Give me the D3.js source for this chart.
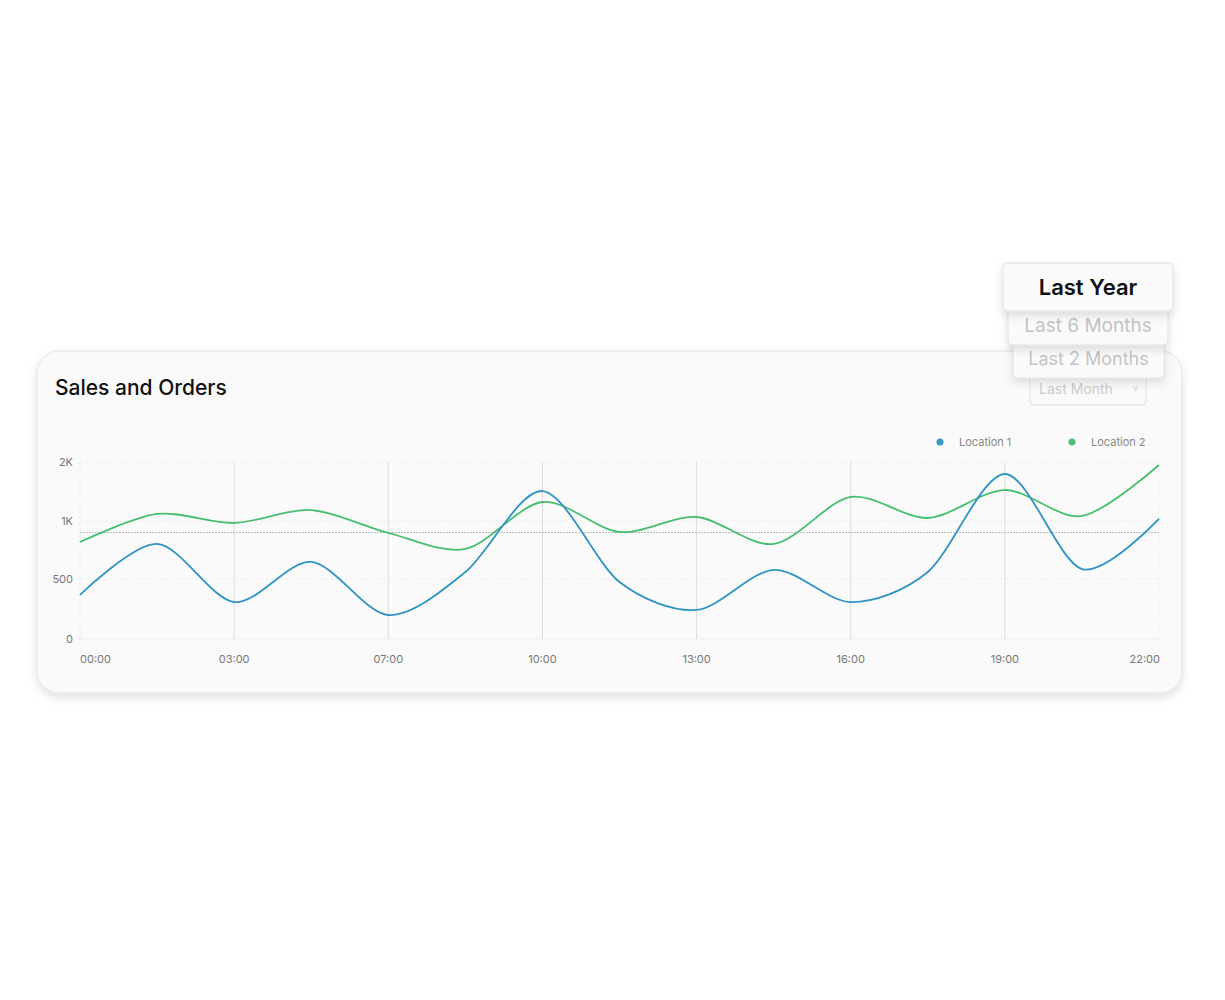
<!DOCTYPE html>
<html><head><meta charset="utf-8">
<script src="https://cdn.jsdelivr.net/npm/d3@7"></script>
<style>body{margin:0;background:#fff;font-family:Inter,"Noto Sans",sans-serif}</style>
</head><body>
<svg id="c" width="1225" height="1000"></svg>
<script>
/*global d3*/
var hours = ["00:00", "", "03:00", "", "07:00", "", "10:00", "", "13:00", "", "16:00", "", "19:00", "", "22:00"],
    location1 = [367, 802, 308, 647, 200, 560, 1508, 475, 242, 578, 308, 560, 1797, 586, 1034],
    location2 = [819, 1119, 983, 1186, 897, 759, 1322, 905, 1068, 802, 1407, 1051, 1525, 1085, 1949],
    yTicks = [0, 500, 1000, 2000],
    yTickLabels = ["0", "500", "1K", "2K"],
    refValue = 900,
    periods = ["Last Month", "Last 2 Months", "Last 6 Months", "Last Year"];

var svg = d3.select("#c"),
    defs = svg.append("defs");
var f = defs.append("filter").attr("id", "sh").attr("x", "-10%").attr("y", "-20%").attr("width", "120%").attr("height", "150%");
f.append("feDropShadow").attr("dx", 0).attr("dy", 4).attr("stdDeviation", 5).attr("flood-color", "#000").attr("flood-opacity", 0.12);

svg.append("rect").attr("x", 37).attr("y", 351).attr("width", 1145).attr("height", 342).attr("rx", 22)
    .attr("fill", "#fafafa").attr("stroke", "#e3e3e3").attr("filter", "url(#sh)");
svg.append("text").attr("x", 55).attr("y", 395).text("Sales and Orders")
    .attr("font-size", 21).attr("font-weight", 500).attr("fill", "#111");

var idx = d3.range(hours.length);
var x = d3.scalePoint().domain(idx).range([80, 1159]);
var y = d3.scaleLinear().domain(yTicks).range([639, 579, 521, 462]);

var g = svg.append("g");
yTicks.forEach(function (t, i) {
    g.append("line").attr("x1", 80).attr("x2", 1159).attr("y1", y(t)).attr("y2", y(t))
        .attr("stroke", "#eee").attr("stroke-dasharray", i === 0 ? null : "3,2");
    g.append("text").attr("x", 73).attr("y", y(t) + 4).attr("text-anchor", "end")
        .attr("font-size", 11).attr("fill", "#777").text(yTickLabels[i]);
});
g.append("line").attr("x1", 80).attr("x2", 80).attr("y1", 462).attr("y2", 639)
    .attr("stroke", "#e6e6e6").attr("stroke-dasharray", "3,3");
g.append("line").attr("x1", 1159).attr("x2", 1159).attr("y1", 462).attr("y2", 639)
    .attr("stroke", "#eee").attr("stroke-dasharray", "3,3");
idx.forEach(function (i) {
    if (hours[i] === "") { return; }
    if (i > 0 && i < hours.length - 1) {
        g.append("line").attr("x1", x(i)).attr("x2", x(i)).attr("y1", 462).attr("y2", 639)
            .attr("stroke", "#dcdcdc");
    }
    g.append("text").attr("x", x(i) + (i === 0 ? 0 : i === hours.length - 1 ? 1 : 0))
        .attr("y", 663).attr("text-anchor", i === 0 ? "start" : i === hours.length - 1 ? "end" : "middle")
        .attr("font-size", 11).attr("fill", "#777").text(hours[i]);
});
g.append("line").attr("x1", 80).attr("x2", 1159).attr("y1", y(refValue)).attr("y2", y(refValue))
    .attr("stroke", "#aaa").attr("stroke-dasharray", "2,1").attr("stroke-width", 0.8);

var line = d3.line().x(function (d, i) { return x(i); }).y(function (d) { return y(d); })
    .curve(d3.curveCardinal.tension(0.1));
[[location2, "#45bf6f"], [location1, "#2f93c4"]].forEach(function (s) {
    svg.append("path").attr("d", line(s[0])).attr("fill", "none")
        .attr("stroke", s[1]).attr("stroke-width", 1.8);
});

[["Location 1", "#3a97c9", 940], ["Location 2", "#4cc07a", 1072]].forEach(function (l) {
    svg.append("circle").attr("cx", l[2]).attr("cy", 442).attr("r", 3.5).attr("fill", l[1]);
    svg.append("text").attr("x", l[2] + 19).attr("y", 446).attr("font-size", 11).attr("fill", "#888").text(l[0]);
});

// dropdown stack
var boxes = [
    {x: 1030, y: 372, w: 116, h: 33, fs: 14, c: "#ccc", shadow: false},
    {x: 1013, y: 340, w: 151, h: 38, fs: 18, c: "#c4c4c4", shadow: true},
    {x: 1008, y: 305, w: 160, h: 40, fs: 19, c: "#c4c4c4", shadow: true},
    {x: 1003, y: 263, w: 170, h: 48, fs: 22, c: "#111", shadow: true, bold: true}
];
boxes.forEach(function (b, i) {
    svg.append("rect").attr("x", b.x).attr("y", b.y).attr("width", b.w).attr("height", b.h).attr("rx", 4)
        .attr("fill", "#fafafa").attr("stroke", "#e0e0e0").attr("filter", b.shadow ? "url(#sh)" : null);
    svg.append("text").attr("x", i === 0 ? b.x + 9 : b.x + b.w / 2).attr("y", b.y + b.h / 2 + b.fs * 0.36)
        .attr("text-anchor", i === 0 ? "start" : "middle").attr("font-size", b.fs)
        .attr("font-weight", b.bold ? 600 : 400).attr("fill", b.c).text(periods[i]);
});
svg.append("text").attr("x", 1133).attr("y", 391).attr("font-size", 9).attr("fill", "#ccc").text("v");
</script>
</body></html>
